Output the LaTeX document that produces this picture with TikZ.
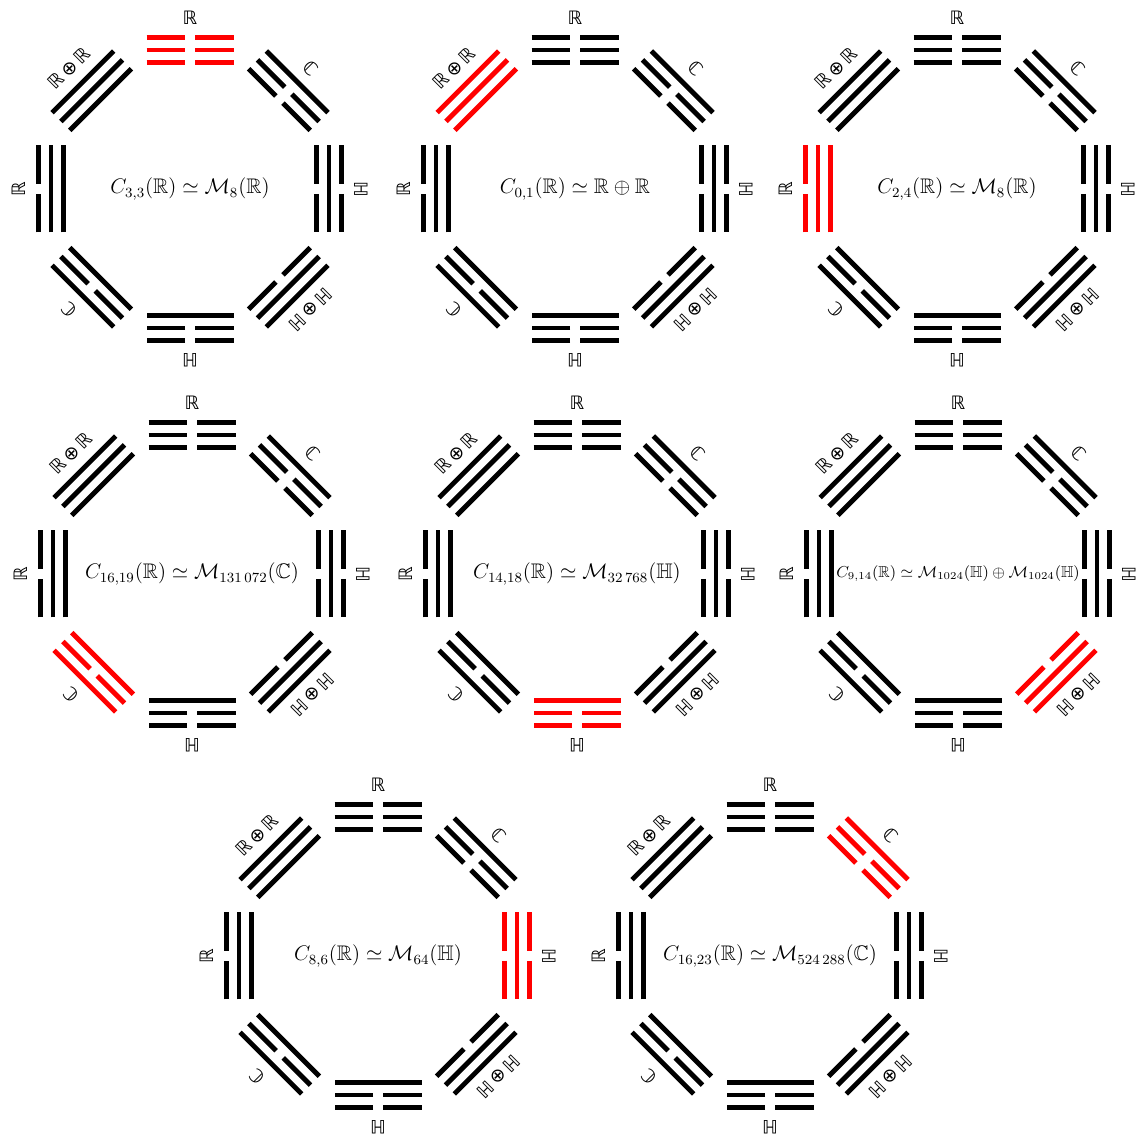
\documentclass[tikz,border=0pt]{standalone}
\usepackage{amssymb}
\usepackage{fontspec}
\newfontfamily\dsfont{DejaVu Sans}

% one octagon of trigrams: name, centre, red position, formula
\newcommand\bagua[4]{%
  \begin{scope}[shift={#2}]
    \node[formula] (#1) at (0,0) {#4};
    \foreach \k/\ya/\yb/\yc/\lab in {0/0/0/0/{ℝ},
        1/1/0/0/{ℂ}, 2/0/1/0/{ℍ},
        3/1/1/0/{ℍ\,⊕\,ℍ}, 4/0/0/1/{ℍ},
        5/1/0/1/{ℂ}, 6/0/1/1/{ℝ},
        7/1/1/1/{ℝ\,⊕\,ℝ}}{
      \ifnum\k=#3 \def\col{red}\else\def\col{black}\fi
      \begin{scope}[rotate=-45*\k]
        \node[lab, rotate=-45*\k] (#1-l\k) at (0,171) {\lab};
        \foreach \r/\b in {151.5/\ya, 139/\yb, 126.5/\yc}{
          \ifnum\b=1
            \draw[yao, color=\col] (-43.5,\r) -- (43.5,\r);
          \else
            \draw[yao, color=\col] (-43.5,\r) -- (-5,\r) (5,\r) -- (43.5,\r);
          \fi
        }
      \end{scope}
    }
  \end{scope}}

\begin{document}
\begin{tikzpicture}[x=0.02cm, y=0.02cm,
    yao/.style={line width=2.8pt, line cap=butt},
    lab/.style={font=\dsfont\fontsize{10.5}{12}\selectfont, inner sep=0pt},
    formula/.style={font=\large, inner sep=1pt},
  ]
  \useasboundingbox (0,0) rectangle (1139,1142);

  % Top row
  \bagua{o1}{(190,953)}{0}{$C_{3,3}(\mathbb{R})\simeq\mathcal{M}_{8}(\mathbb{R})$}
  \bagua{o2}{(575,953)}{7}{$C_{0,1}(\mathbb{R})\simeq\mathbb{R}\oplus\mathbb{R}$}
  \bagua{o3}{(957,953)}{6}{$C_{2,4}(\mathbb{R})\simeq\mathcal{M}_{8}(\mathbb{R})$}

  % Middle row
  \bagua{o4}{(192,568)}{5}{$C_{16,19}(\mathbb{R})\simeq\mathcal{M}_{131\,072}(\mathbb{C})$}
  \bagua{o5}{(577,568)}{4}{$C_{14,18}(\mathbb{R})\simeq\mathcal{M}_{32\,768}(\mathbb{H})$}
  \bagua{o6}{(958,568)}{3}{\small$C_{9,14}(\mathbb{R})\simeq\mathcal{M}_{1024}(\mathbb{H})\oplus\mathcal{M}_{1024}(\mathbb{H})$}

  % Bottom row
  \bagua{o7}{(378,186)}{2}{$C_{8,6}(\mathbb{R})\simeq\mathcal{M}_{64}(\mathbb{H})$}
  \bagua{o8}{(770,186)}{1}{$C_{16,23}(\mathbb{R})\simeq\mathcal{M}_{524\,288}(\mathbb{C})$}
\end{tikzpicture}
\end{document}
